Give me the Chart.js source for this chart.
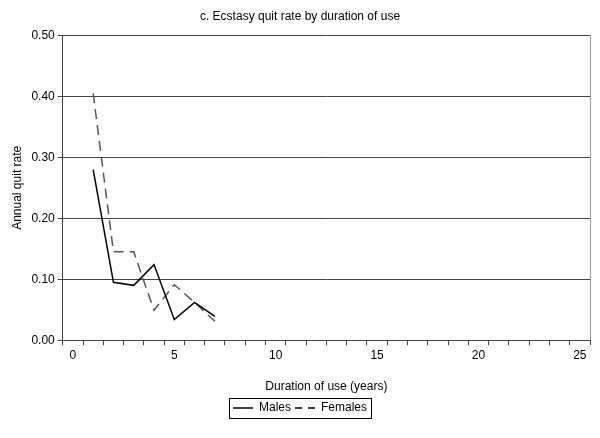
<!DOCTYPE html>
<html>
<head>
<meta charset="utf-8">
<script src="https://cdn.jsdelivr.net/npm/chart.js@4/dist/chart.umd.min.js"></script>
<style>
  body { margin: 0; background: #fff; }
  #wrap { width: 600px; height: 438px; }
</style>
</head>
<body>
<div id="wrap"><canvas id="myChart"></canvas></div>
<script>
const years = ["0","1","2","3","4","5","6","7","8","9","10","11","12","13","14","15","16","17","18","19","20","21","22","23","24","25"];
const males = [null, 0.280, 0.095, 0.090, 0.124, 0.034, 0.062, 0.039];
const females = [null, 0.405, 0.145, 0.145, 0.049, 0.091, 0.062, 0.031];
const yTicks = [0, 0.1, 0.2, 0.3, 0.4, 0.5];

const font = "'Liberation Sans Narrow', 'Liberation Sans', Arial, sans-serif";

// small line samples for the legend (solid and dashed)
function sample(dash) {
  const cv = document.createElement("canvas");
  cv.width = 20;
  cv.height = 4;
  const g = cv.getContext("2d");
  g.strokeStyle = "#000";
  g.lineWidth = 1.5;
  g.setLineDash(dash);
  g.beginPath();
  g.moveTo(0, 2);
  g.lineTo(20, 2);
  g.stroke();
  return cv;
}
const legendSamples = [sample([]), sample([7, 6])];

// border on the right of the plot area and a box round the legend entries
const boxes = {
  id: "boxes",
  afterDraw(chart) {
    const c = chart.ctx;
    const a = chart.chartArea;
    c.save();
    c.strokeStyle = "#999";
    c.lineWidth = 1;
    c.beginPath();
    c.moveTo(a.right + 0.5, a.top);
    c.lineTo(a.right + 0.5, a.bottom);
    c.stroke();
    const hb = chart.legend.legendHitBoxes;
    if (hb && hb.length) {
      const left = Math.min(...hb.map(h => h.left)) - 4;
      const right = Math.max(...hb.map(h => h.left + h.width)) + 4;
      const top = Math.min(...hb.map(h => h.top)) - 4;
      const bottom = Math.max(...hb.map(h => h.top + h.height)) + 4;
      c.strokeStyle = "#000";
      c.strokeRect(Math.round(left) + 0.5, Math.round(top) + 0.5, Math.round(right - left), Math.round(bottom - top));
    }
    c.restore();
  }
};

const ctx = document.getElementById("myChart").getContext("2d");
const chart = new Chart(ctx, {
  type: "line",
  data: {
    labels: years,
    datasets: [
      {
        label: "Males",
        data: males,
        borderColor: "#000",
        borderWidth: 1.5,
        pointRadius: 0,
        tension: 0
      },
      {
        label: "Females",
        data: females,
        borderColor: "#555",
        borderWidth: 1.5,
        borderDash: [10, 6],
        pointRadius: 0,
        tension: 0
      }
    ]
  },
  options: {
    animation: false,
    responsive: true,
    maintainAspectRatio: false,
    layout: { padding: { left: 10, right: 10, top: 4, bottom: 14 } },
    plugins: {
      title: {
        display: true,
        text: "c. Ecstasy quit rate by duration of use",
        color: "#000",
        font: { family: font, size: 12, weight: "normal" },
        padding: { top: 5, bottom: 12 }
      },
      legend: {
        position: "bottom",
        labels: {
          color: "#000",
          font: { family: font, size: 12 },
          usePointStyle: true,
          pointStyleWidth: 20,
          padding: 4,
          generateLabels: (chart) => {
            const items = Chart.defaults.plugins.legend.labels.generateLabels(chart);
            items.forEach((it, i) => { it.pointStyle = legendSamples[i]; });
            return items;
          }
        }
      },
      tooltip: { enabled: false }
    },
    scales: {
      x: {
        offset: true,
        grid: {
          offset: true,
          drawOnChartArea: false,
          drawTicks: true,
          tickLength: 5,
          color: "#444"
        },
        border: { color: "#444", width: 1 },
        ticks: {
          autoSkip: false,
          maxRotation: 0,
          color: "#000",
          font: { family: font, size: 12 },
          padding: 3,
          callback: (v, i) => (i % 5 === 0 ? years[i] : "")
        },
        title: {
          display: true,
          text: "Duration of use (years)",
          color: "#000",
          font: { family: font, size: 12 },
          padding: { top: 14, bottom: 4 }
        }
      },
      y: {
        min: 0,
        max: 0.5,
        afterBuildTicks: (axis) => { axis.ticks = yTicks.map(v => ({ value: v })); },
        grid: { color: "#444", tickLength: 5 },
        border: { color: "#444", width: 1 },
        ticks: {
          color: "#000",
          font: { family: font, size: 12 },
          padding: 3,
          callback: (v) => v.toFixed(2)
        },
        title: {
          display: true,
          text: "Annual quit rate",
          color: "#000",
          font: { family: font, size: 12 },
          padding: { top: 0, bottom: 4 }
        }
      }
    }
  },
  plugins: [boxes]
});
</script>
</body>
</html>
